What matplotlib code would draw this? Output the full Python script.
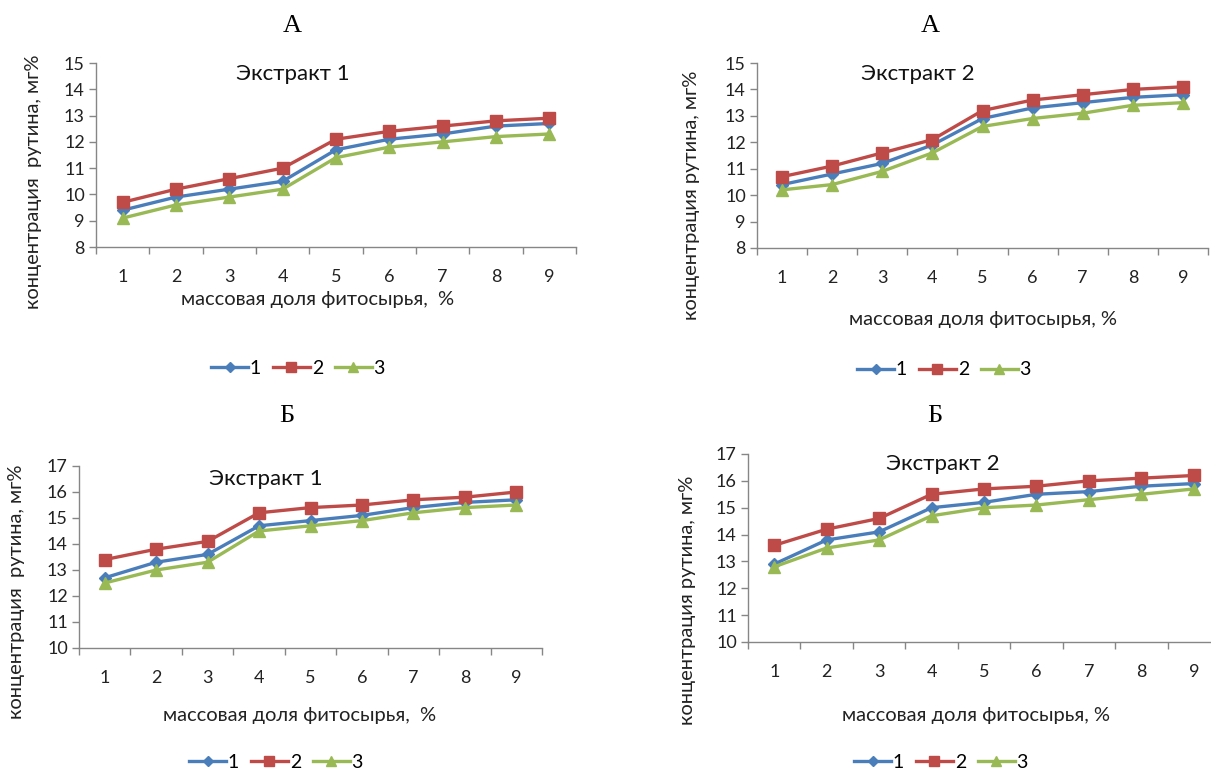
import matplotlib
matplotlib.use("Agg")
import matplotlib.pyplot as plt
from matplotlib.lines import Line2D

W, H = 1211, 773

categories = [1, 2, 3, 4, 5, 6, 7, 8, 9]
series_names = ["1", "2", "3"]

a1_s1 = [9.4, 9.9, 10.2, 10.5, 11.7, 12.1, 12.3, 12.6, 12.7]
a1_s2 = [9.7, 10.2, 10.6, 11.0, 12.1, 12.4, 12.6, 12.8, 12.9]
a1_s3 = [9.1, 9.6, 9.9, 10.2, 11.4, 11.8, 12.0, 12.2, 12.3]

a2_s1 = [10.4, 10.8, 11.2, 11.9, 12.9, 13.3, 13.5, 13.7, 13.8]
a2_s2 = [10.7, 11.1, 11.6, 12.1, 13.2, 13.6, 13.8, 14.0, 14.1]
a2_s3 = [10.2, 10.4, 10.9, 11.6, 12.6, 12.9, 13.1, 13.4, 13.5]

b1_s1 = [12.7, 13.3, 13.6, 14.7, 14.9, 15.1, 15.4, 15.6, 15.7]
b1_s2 = [13.4, 13.8, 14.1, 15.2, 15.4, 15.5, 15.7, 15.8, 16.0]
b1_s3 = [12.5, 13.0, 13.3, 14.5, 14.7, 14.9, 15.2, 15.4, 15.5]

b2_s1 = [12.9, 13.8, 14.1, 15.0, 15.2, 15.5, 15.6, 15.8, 15.9]
b2_s2 = [13.6, 14.2, 14.6, 15.5, 15.7, 15.8, 16.0, 16.1, 16.2]
b2_s3 = [12.8, 13.5, 13.8, 14.7, 15.0, 15.1, 15.3, 15.5, 15.7]

colors = ["#4A7EBB", "#BE4B48", "#98B954"]
markers = ["D", "s", "^"]
msizes = [6.5, 8.5, 9]

SANS = ["Lato", "DejaVu Sans"]
SERIF = ["Liberation Serif", "DejaVu Serif"]
GRAY = "#868686"

fig = plt.figure(figsize=(W / 100, H / 100), dpi=100)
fig.patch.set_facecolor("white")


def fx(x):
    return x / W


def fy(y):
    return 1 - y / H


def panel(rect, data, ylim, letter, letter_pos, title, title_pos,
          ylabel, ylabel_pos, xlabel, xlabel_pos, legend_pos):
    x0, y0, x1, y1 = rect
    ax = fig.add_axes([fx(x0), fy(y1), (x1 - x0) / W, (y1 - y0) / H])
    for vals, c, m, ms in zip(data, colors, markers, msizes):
        ax.plot(categories, vals, color=c, lw=2.4, marker=m, ms=ms,
                markerfacecolor=c, markeredgecolor=c, clip_on=False, zorder=3)
    ax.set_xlim(0.5, 9.5)
    ax.set_ylim(*ylim)
    ax.set_yticks(range(ylim[0], ylim[1] + 1))
    ax.set_xticks([i + 0.5 for i in range(0, 10)])
    ax.set_xticklabels([])
    ax.set_xticks(categories, minor=True)
    ax.set_xticklabels([str(c) for c in categories], minor=True)
    ax.tick_params(axis="x", which="major", direction="out", length=5,
                   color=GRAY, width=1)
    ax.tick_params(axis="x", which="minor", length=0, pad=16,
                   labelsize=13, labelcolor="#222222")
    ax.tick_params(axis="y", direction="out", length=5, color=GRAY, width=1,
                   labelsize=13, labelcolor="#222222", pad=3)
    for lab in ax.get_xticklabels(minor=True) + ax.get_yticklabels():
        lab.set_fontfamily(SANS)
    for s in ["top", "right"]:
        ax.spines[s].set_visible(False)
    for s in ["left", "bottom"]:
        ax.spines[s].set_color(GRAY)
        ax.spines[s].set_linewidth(1)
    ax.patch.set_alpha(0)

    fig.text(fx(letter_pos[0]), fy(letter_pos[1]), letter, family=SERIF,
             fontsize=19, ha="center", va="center", color="black")
    fig.text(fx(title_pos[0]), fy(title_pos[1]), title, family=SANS,
             fontsize=16, ha="center", va="center", color="#111111")
    fig.text(fx(ylabel_pos[0]), fy(ylabel_pos[1]), ylabel, family=SANS,
             fontsize=14.5, ha="center", va="center", rotation=90,
             color="#222222")
    fig.text(fx(xlabel_pos[0]), fy(xlabel_pos[1]), xlabel, family=SANS,
             fontsize=14.5, ha="center", va="center", color="#222222")

    handles = [Line2D([], [], color=c, lw=2.4, marker=m, ms=ms * 0.85,
                      markerfacecolor=c, markeredgecolor=c)
               for c, m, ms in zip(colors, markers, msizes)]
    fig.legend(handles, series_names, loc="center",
               bbox_to_anchor=(fx(legend_pos[0]), fy(legend_pos[1])),
               ncol=3, frameon=False, handlelength=1.9, handletextpad=0.1,
               columnspacing=0.6, prop={"family": SANS, "size": 14},
               borderpad=0.1)
    return ax


panel((96, 63, 576, 247), [a1_s1, a1_s2, a1_s3], (8, 15),
      "А", (292, 26), "Экстракт 1", (293, 74),
      "концентрация  рутина, мг%", (34, 182),
      "массовая доля фитосырья,  %", (318, 299), (298, 368))

panel((757, 63, 1208, 248), [a2_s1, a2_s2, a2_s3], (8, 15),
      "А", (930, 26), "Экстракт 2", (918, 74),
      "концентрация рутина, мг%", (692, 195),
      "массовая доля фитосырья, %", (983, 320), (944, 370))

panel((79, 466, 542, 648), [b1_s1, b1_s2, b1_s3], (10, 17),
      "Б", (287, 416), "Экстракт 1", (266, 479),
      "концентрация  рутина, мг%", (17, 592),
      "массовая доля фитосырья,  %", (300, 716), (276, 762))

panel((748, 454, 1220, 642), [b2_s1, b2_s2, b2_s3], (10, 17),
      "Б", (935, 416), "Экстракт 2", (943, 464),
      "концентрация рутина, мг%", (687, 600),
      "массовая доля фитосырья, %", (976, 715), (941, 762))

fig.savefig("out.png", dpi=100, facecolor="white")
